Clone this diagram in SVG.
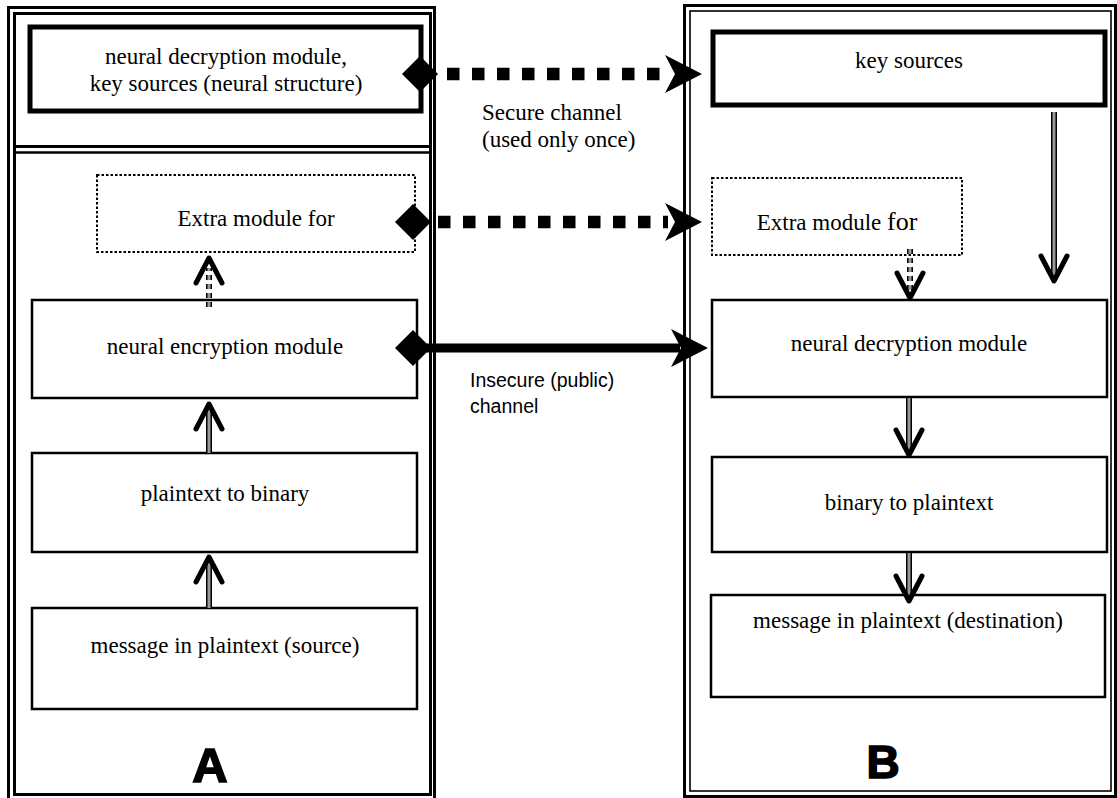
<svg xmlns="http://www.w3.org/2000/svg" xmlns:xlink="http://www.w3.org/1999/xlink" width="1117" height="798" viewBox="0 0 1117 798">
<style>
.bg{fill:#fff}
.frame{fill:none;stroke:#000;stroke-width:3}
.frame-thin{fill:none;stroke:#000;stroke-width:1.6}
.box{fill:#fff;stroke:#000;stroke-width:2.5}
.box-thick{fill:#fff;stroke:#000;stroke-width:5}
.box-dot{fill:#fff;stroke:#000;stroke-width:2;stroke-dasharray:2.5 2}
.t{font-family:"Liberation Serif","Times New Roman",serif;font-size:23px;fill:#000;text-anchor:middle}
.tl{font-family:"Liberation Serif","Times New Roman",serif;font-size:23px;fill:#000}
.ts{font-family:"Liberation Sans",Arial,sans-serif;font-size:19.5px;fill:#000}
.big{font-family:"Liberation Sans",Arial,sans-serif;font-weight:bold;fill:#000;stroke:#000;stroke-width:1.6;text-anchor:middle}
.sh1{stroke:#000;stroke-width:6;fill:none}
.sh2{stroke:#fff;stroke-width:2.6;fill:none}
.sh3{stroke:#333;stroke-width:1;fill:none}
.dsh{stroke-dasharray:5 4}
.chev{fill:none;stroke:#000;stroke-width:5;stroke-linecap:round;stroke-linejoin:round}
.sq{stroke:#000;stroke-width:12.5;stroke-dasharray:12.5 12.5;fill:none}
.solid{stroke:#000;stroke-width:9;fill:none}
</style>
<defs>
<path id="diamond" d="M0 -18 L18 0 L0 18 L-18 0 Z" fill="#000"/>
<path id="stealth" d="M0 0 L-37 -19 L-27 0 L-37 19 Z" fill="#000"/>
<path id="chevdown" d="M-13 -25 L0 0 L13 -25" class="chev"/>
<path id="chevup" d="M-13 25 L0 0 L13 25" class="chev"/>
</defs>
<rect class="bg" x="0" y="0" width="1117" height="798"/>

<g id="panel-A">
<rect class="frame" x="8.5" y="7.5" width="426" height="800"/>
<rect class="frame" x="14.5" y="13.5" width="416" height="781"/>
<line x1="14" y1="146.5" x2="431" y2="146.5" stroke="#000" stroke-width="3"/>
<line x1="14" y1="152.5" x2="431" y2="152.5" stroke="#000" stroke-width="2.5"/>
<text class="big" x="210" y="782" font-size="49">A</text>
</g>

<g id="panel-B">
<rect class="frame" x="684.5" y="5.5" width="431" height="791"/>
<rect class="frame-thin" x="690" y="11" width="421" height="780"/>
<text class="big" x="883" y="778" font-size="46">B</text>
</g>

<g id="node-a-keys">
<rect class="box-thick" x="30" y="27" width="391" height="84"/>
<text class="t" x="226" y="64">neural decryption module,</text>
<text class="t" x="226" y="91">key sources (neural structure)</text>
</g>

<g id="node-a-extra">
<rect class="box-dot" x="97" y="175" width="318" height="77"/>
<text class="t" x="256" y="226">Extra module for</text>
</g>

<g id="node-a-enc">
<rect class="box" x="32" y="300" width="385" height="98"/>
<text class="t" x="225" y="354">neural encryption module</text>
</g>

<g id="node-a-bin">
<rect class="box" x="32" y="453" width="385" height="99"/>
<text class="t" x="225" y="501">plaintext to binary</text>
</g>

<g id="node-a-msg">
<rect class="box" x="32" y="608" width="385" height="101"/>
<text class="t" x="225" y="653">message in plaintext (source)</text>
</g>

<g id="node-b-keys">
<rect class="box-thick" x="713" y="32" width="392" height="73"/>
<text class="t" x="909" y="68">key sources</text>
</g>

<g id="node-b-extra">
<rect class="box-dot" x="712" y="178" width="250" height="77"/>
<text class="t" x="837" y="230">Extra module <tspan font-size="26">for</tspan></text>
</g>

<g id="node-b-dec">
<rect class="box" x="712" y="300" width="395" height="97"/>
<text class="t" x="909" y="351">neural decryption module</text>
</g>

<g id="node-b-bin">
<rect class="box" x="712" y="457" width="395" height="95"/>
<text class="t" x="909" y="510">binary to plaintext</text>
</g>

<g id="node-b-msg">
<rect class="box" x="711" y="595" width="394" height="102"/>
<text class="t" x="908" y="628">message in plaintext (destination)</text>
</g>

<g id="connectors">
<!-- secure channel -->
<line class="sq" x1="447" y1="74" x2="668" y2="74"/>
<use xlink:href="#diamond" x="420" y="74"/>
<use xlink:href="#stealth" x="702" y="74"/>
<!-- extra module link -->
<line class="sq" x1="438" y1="222" x2="668" y2="222"/>
<use xlink:href="#diamond" x="413" y="222"/>
<use xlink:href="#stealth" x="702" y="222"/>
<!-- insecure channel -->
<line class="solid" x1="420" y1="348" x2="680" y2="348"/>
<use xlink:href="#diamond" x="413" y="348"/>
<use xlink:href="#stealth" x="708" y="348"/>

<!-- A: enc -> extra (dashed) -->
<g class="dsh">
<line class="sh1" x1="209" y1="307" x2="209" y2="268"/>
<line class="sh2" x1="209" y1="307" x2="209" y2="268"/>
<line class="sh3" x1="209" y1="307" x2="209" y2="268"/>
</g>
<use xlink:href="#chevup" x="209" y="258"/>
<!-- A: bin -> enc -->
<line class="sh1" x1="209" y1="453" x2="209" y2="408"/>
<line class="sh2" x1="209" y1="453" x2="209" y2="408"/>
<line class="sh3" x1="209" y1="453" x2="209" y2="408"/>
<use xlink:href="#chevup" x="209" y="404"/>
<!-- A: msg -> bin -->
<line class="sh1" x1="209" y1="608" x2="209" y2="561"/>
<line class="sh2" x1="209" y1="608" x2="209" y2="561"/>
<line class="sh3" x1="209" y1="608" x2="209" y2="561"/>
<use xlink:href="#chevup" x="209" y="557"/>

<!-- B: keys -> dec -->
<line class="sh1" x1="1054" y1="112" x2="1054" y2="276"/>
<line class="sh2" x1="1054" y1="112" x2="1054" y2="276"/>
<line class="sh3" x1="1054" y1="112" x2="1054" y2="276"/>
<use xlink:href="#chevdown" x="1054" y="281"/>
<!-- B: extra -> dec (dashed) -->
<g class="dsh">
<line class="sh1" x1="910" y1="249" x2="910" y2="292"/>
<line class="sh2" x1="910" y1="249" x2="910" y2="292"/>
<line class="sh3" x1="910" y1="249" x2="910" y2="292"/>
</g>
<use xlink:href="#chevdown" x="910" y="298"/>
<!-- B: dec -> bin -->
<line class="sh1" x1="909" y1="398" x2="909" y2="450"/>
<line class="sh2" x1="909" y1="398" x2="909" y2="450"/>
<line class="sh3" x1="909" y1="398" x2="909" y2="450"/>
<use xlink:href="#chevdown" x="909" y="455"/>
<!-- B: bin -> msg -->
<line class="sh1" x1="909" y1="553" x2="909" y2="596"/>
<line class="sh2" x1="909" y1="553" x2="909" y2="596"/>
<line class="sh3" x1="909" y1="553" x2="909" y2="596"/>
<use xlink:href="#chevdown" x="909" y="601"/>
</g>

<g id="labels">
<text class="tl" x="482" y="120">Secure channel</text>
<text class="tl" x="482" y="147">(used only once)</text>
<text class="ts" x="470" y="387">Insecure (public)</text>
<text class="ts" x="470" y="413">channel</text>
</g>
</svg>
